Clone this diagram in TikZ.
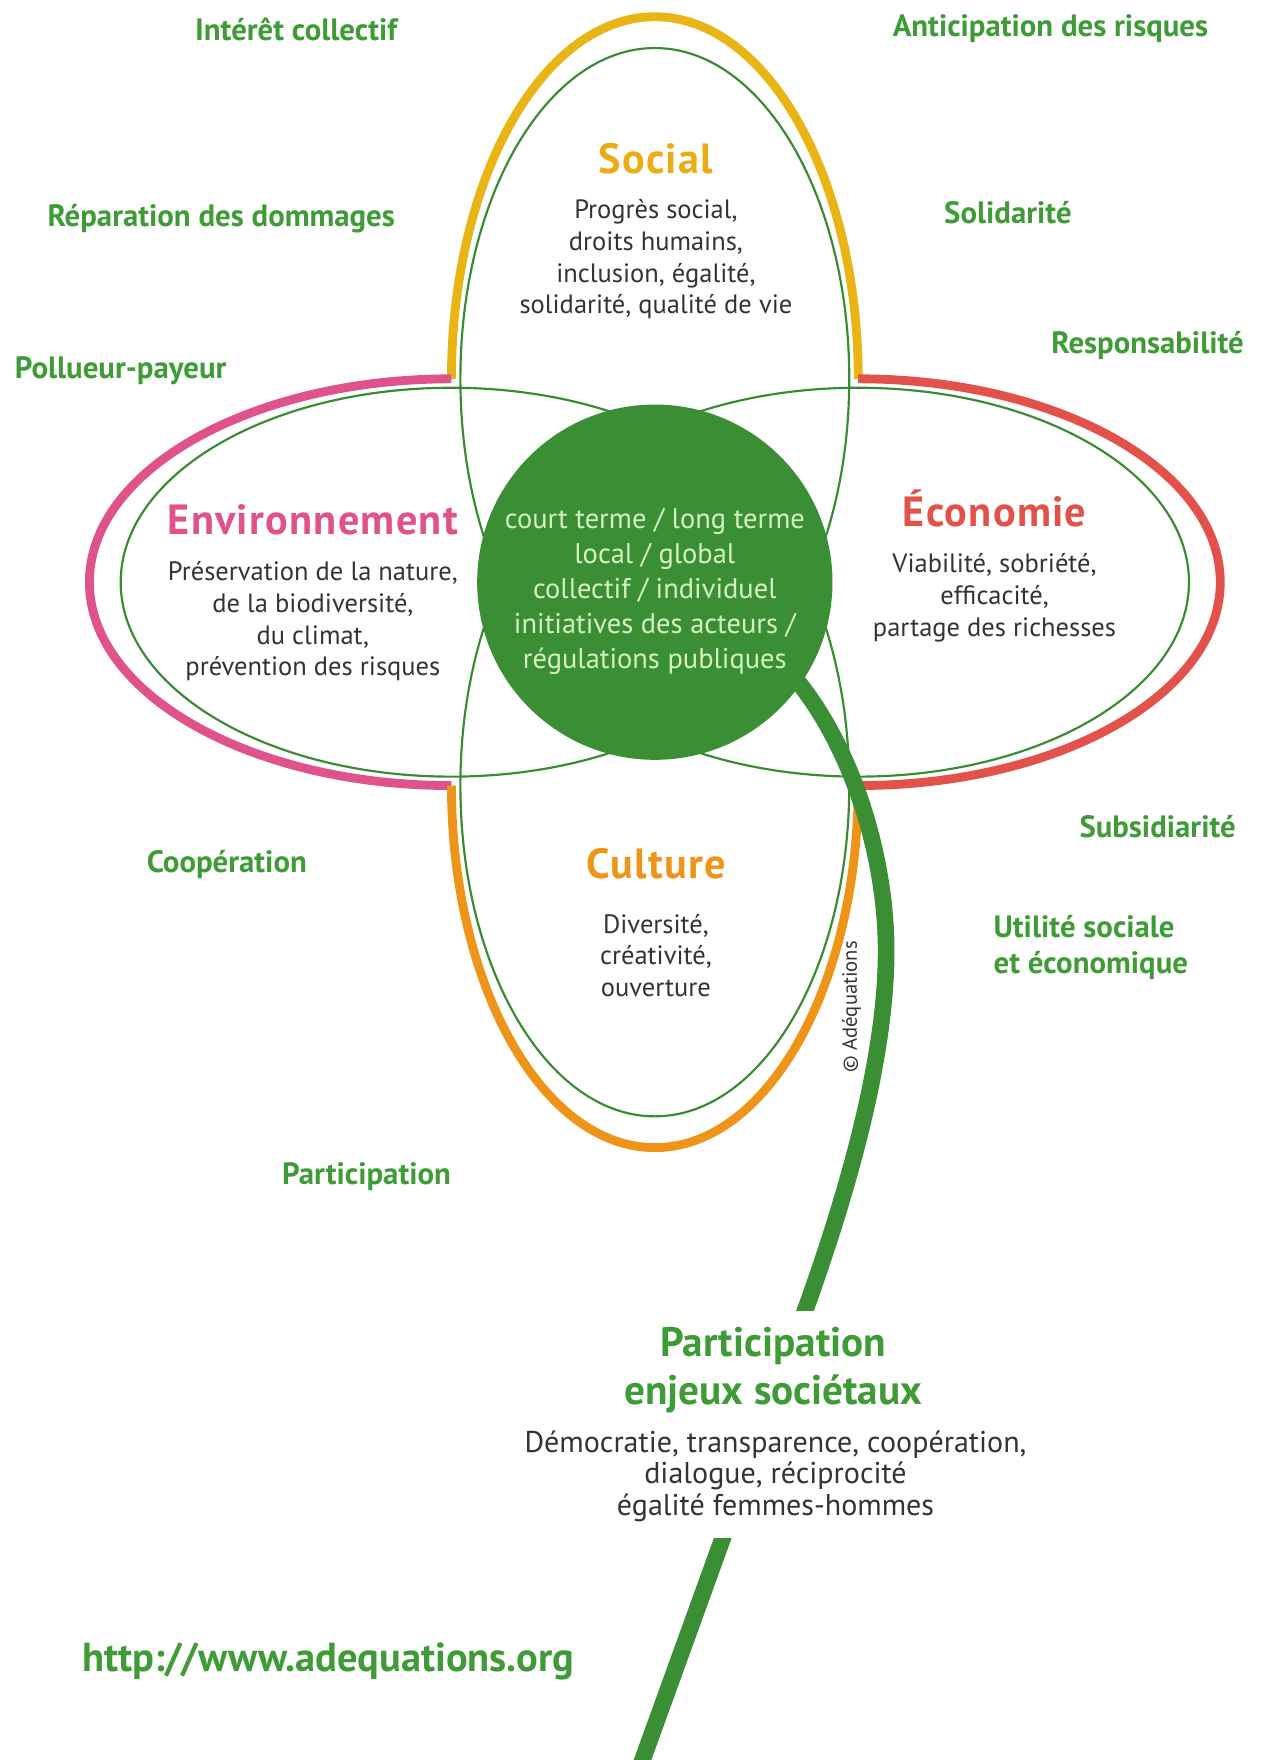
\documentclass[tikz,border=0pt]{standalone}
\usepackage{fontspec}
\setmainfont{PT Sans}
\usetikzlibrary{positioning}
\definecolor{vertfonce}{HTML}{3A8F34}
\definecolor{vertlabel}{HTML}{3E9B36}
\definecolor{vertpale}{HTML}{D6F2C2}
\definecolor{jaune}{HTML}{E8B514}
\definecolor{rose}{HTML}{E0528A}
\definecolor{rouge}{HTML}{E2514A}
\definecolor{orangec}{HTML}{EE9419}
\definecolor{gris}{HTML}{333333}
\begin{document}
\begin{tikzpicture}[x=0.02cm, y=0.02cm, line join=round,
		etiquette/.style={text=vertlabel, font=\bfseries\fontsize{15.7}{18.6}\selectfont},
		titre/.style={font=\bfseries\fontsize{21.5}{24}\selectfont\addfontfeature{LetterSpace=3}},
		texte/.style={text=gris, align=center, font=\fontsize{13.5}{16.2}\selectfont},
		trait/.style={vertlabel!90!black, line width=1.1pt},
		bord/.style={line width=4.5pt},
		tige/.style={vertfonce, line width=8.5pt}]
			\useasboundingbox (-586,-1054) rectangle (544,521);
			\draw[bord, jaune] (182,182) arc[start angle=0, end angle=180, x radius=182, y radius=324];
			\draw[bord, rose] (-182,182) arc[start angle=90, end angle=270, x radius=324, y radius=182];
			\draw[bord, rouge] (182,-182) arc[start angle=-90, end angle=90, x radius=324, y radius=182];
			\draw[bord, orangec] (-182,-182) arc[start angle=180, end angle=360, x radius=182, y radius=324];
			\foreach \cx/\cy/\rx/\ry in {0/182/174/296, 0/-182/174/296, -182/0/296/174, 182/0/296/174}
			\draw[trait] (\cx,\cy) ellipse[x radius=\rx, y radius=\ry];
			\node[circle, fill=vertfonce, minimum size=6.36cm, inner sep=0pt] (centre) at (0,0) {};
			\coordinate (racine) at (100,-60);
			\coordinate (pied) at (-19,-1076);
			\draw[tige] (racine) .. controls (165,-115) and (207,-230) .. (207,-330)
				.. controls (207,-420) and (177,-532) .. (138,-642) -- (pied);
			\node[text=vertpale, align=center, font=\fontsize{14.5}{17.8}\selectfont] (centretxt) at (0,-8)
				{court terme / long terme\\local / global\\collectif / individuel\\initiatives des acteurs /\\régulations publiques};
			\node[text=gris, rotate=90, font=\fontsize{10.5}{12}\selectfont] (copyright) at (176,-380) {© Adéquations};
			\path
			(1,379) node[titre, text=jaune!75!orangec] (social) {Social}
			(1,289) node[texte] (socialtxt) {Progrès social,\\droits humains,\\inclusion, égalité,\\solidarité, qualité de vie}
			(-306,56) node[titre, text=rose] (environnement) {Environnement}
			(-306,-35) node[texte] (environnementtxt) {Préservation de la nature,\\de la biodiversité,\\du climat,\\prévention des risques}
			(304,66) node[titre, text=rouge] (economie) {Économie}
			(304,-14) node[texte] (economietxt) {Viabilité, sobriété,\\efficacité,\\partage des richesses}
			(1,-252) node[titre, text=orangec] (culture) {Culture}
			(1,-334) node[texte] (culturetxt) {Diversité,\\créativité,\\ouverture};
			\foreach \px/\py/\txt [count=\i] in {-321/495/Intérêt collectif, 354/495/Anticipation des risques,
				-388/325/Réparation des dommages, 316/331/Solidarité, -478/189/Pollueur-payeur,
				441/212/Responsabilité, 450/-219/Subsidiarité, -383/-253/Coopération, -258/-532/Participation}
			\node[etiquette] (principe\i) at (\px,\py) {\txt};
			\node[etiquette, align=left, anchor=west] (utilite) at (297,-327) {Utilité sociale\\et économique};
			\node[text=vertlabel, font=\bfseries\fontsize{20.6}{23}\selectfont] (site) at (-292,-966) {http://www.adequations.org};
			\node[text=vertlabel, fill=white, inner ysep=8pt, align=center, font=\bfseries\fontsize{21}{24.4}\selectfont] (enjeux) at (106,-705)
				{Participation\\enjeux sociétaux};
			\node[texte, fill=white, inner ysep=8pt, font=\fontsize{15.3}{16.2}\selectfont] (democratie) at (108,-800)
				{Démocratie, transparence, coopération,\\dialogue, réciprocité\\égalité femmes-hommes};
		\end{tikzpicture}
\end{document}
